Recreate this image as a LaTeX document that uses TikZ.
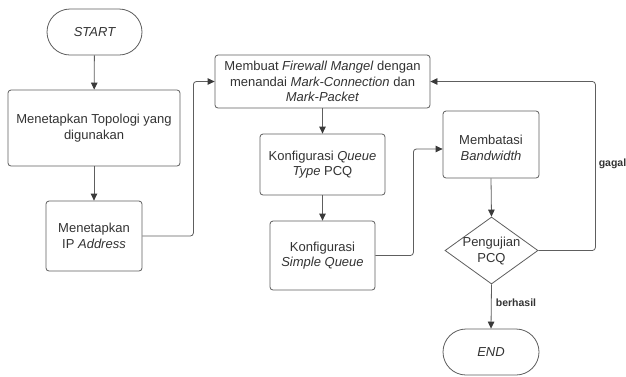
\documentclass[tikz,border=0pt]{standalone}
\usepackage{fontspec}
\setmainfont{Liberation Sans}
\usetikzlibrary{arrows.meta,shapes.geometric}
\definecolor{txt}{HTML}{333333}
\definecolor{edge}{HTML}{5E5E5E}
\definecolor{tipc}{HTML}{3A3A3A}
\begin{document}
\begin{tikzpicture}[x=1pt,y=-1pt,
 box/.style={draw=edge, line width=0.8pt, rounded corners=3pt, align=center, text=txt, font=\fontsize{13}{15.7}\selectfont, inner sep=0pt},
 term/.style={box, rounded corners=23pt},
 dia/.style={draw=edge, line width=0.8pt, diamond, inner sep=0pt},
 conn/.style={draw=edge, line width=0.8pt, rounded corners=3pt, -{Triangle[length=7pt,width=6.5pt,color=tipc]}},
 lab/.style={text=txt, font=\bfseries\fontsize{10.5}{12}\selectfont}]
\useasboundingbox[fill=white] (0,0) rectangle (626,376);
\node[term, minimum width=95, minimum height=46] (start) at (94.5,32) {\itshape START};
\node[box, minimum width=172, minimum height=76] (b1) at (94,128) {Menetapkan Topologi yang\\digunakan};
\node[box, minimum width=96, minimum height=70] (b2) at (94,236) {Menetapkan\\IP \textit{Address}};
\node[box, minimum width=215, minimum height=53] (b3) at (322.5,81.5) {Membuat \textit{Firewall Mangel} dengan\\menandai \textit{Mark-Connection} dan\\\textit{Mark-Packet}};
\node[box, minimum width=125, minimum height=61] (b4) at (322.5,164.5) {Konfigurasi \textit{Queue}\\\textit{Type} PCQ};
\node[box, minimum width=96, minimum height=67] (b5) at (491,144.5) {};
\node[text=txt, font=\fontsize{13}{15.7}\selectfont, align=center, inner sep=0pt] (b5t) at (491,148) {Membatasi\\\textit{Bandwidth}};
\node[box, minimum width=105, minimum height=69] (b6) at (322.5,255.5) {Konfigurasi\\\textit{Simple Queue}};
\node[dia, minimum width=93, minimum height=67] (d) at (491.5,250.5) {};
\node[text=txt, font=\fontsize{13}{15.7}\selectfont, align=center, inner sep=0pt] (dt) at (491.5,251) {Pengujian\\PCQ};
\node[term, minimum width=96, minimum height=46] (end) at (491,352) {\itshape END};

\draw[conn] (start) -- (b1);
\draw[conn] (b1) -- (b2);
\draw[conn] (b2.east) -- ++(51,0) |- (b3.west);
\draw[conn] (b3) -- (b4);
\draw[conn] (b4) -- (b6);
\draw[conn] (b6.east) -- ++(38,0) |- ([yshift=-4.5pt]b5.west);
\draw[conn] (b5.south) -- (d.north);
\draw[conn] (d.east) -- ++(57,0) |- (b3.east);
\draw[conn] (d.south) -- (end.north);
\node[lab] (lberhasil) at (516,303) {berhasil};
\node[lab] (lgagal) at (612.5,164) {gagal};
\end{tikzpicture}
\end{document}
